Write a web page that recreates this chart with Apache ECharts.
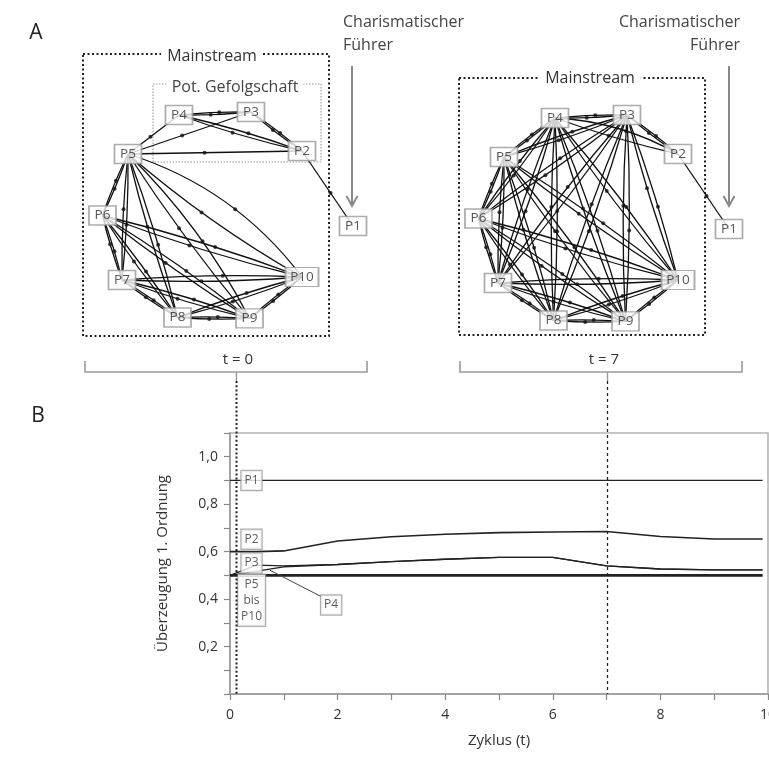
<!DOCTYPE html>
<html>
<head>
<meta charset="utf-8">
<script src="https://cdn.jsdelivr.net/npm/echarts@6/dist/echarts.min.js"></script>
<style>
html, body { margin: 0; padding: 0; background: #fff; }
#container { width: 769px; height: 771px; }
</style>
</head>
<body>
<div id="container"></div>
<script>
var FONT = '"Open Sans", "Noto Sans", sans-serif';

// --- network (part A): node layout in a 0..100 panel space
var nodeNames = ['P1', 'P2', 'P3', 'P4', 'P5', 'P6', 'P7', 'P8', 'P9', 'P10'];
var nodeX = [90, 73, 56, 32, 15, 6.5, 13, 31.5, 55.5, 73];
var nodeY = [38, 63, 76, 75, 62, 41.5, 20, 7.5, 7.2, 21];

// t = 0: mainstream is fully connected, potential followers linked among themselves
var mainstreamT0 = ['P5', 'P6', 'P7', 'P8', 'P9', 'P10'];
var extraLinksT0 = [['P4', 'P3'], ['P3', 'P4'], ['P4', 'P2'], ['P2', 'P4'], ['P3', 'P2'], ['P2', 'P3'],
                    ['P3', 'P5'], ['P4', 'P5'], ['P2', 'P5'], ['P2', 'P1']];
var bendT0 = [['P5', 'P10', 0.16], ['P10', 'P5', 0.05], ['P5', 'P9', 0.08]];

// t = 7: P3 and P4 joined the mainstream
var mainstreamT7 = ['P3', 'P4', 'P5', 'P6', 'P7', 'P8', 'P9', 'P10'];
var extraLinksT7 = [['P3', 'P2'], ['P2', 'P3'], ['P4', 'P2'], ['P2', 'P4'], ['P2', 'P1']];
var bendT7 = [['P4', 'P2', 0.12]];

// --- part B: belief over cycles
var cycles = [0, 0.5, 1, 2, 3, 4, 5, 6, 7, 8, 9, 9.9];
var beliefP1 = [0.9, 0.9, 0.9, 0.9, 0.9, 0.9, 0.9, 0.9, 0.9, 0.9, 0.9, 0.9];
var beliefP2 = [0.6, 0.6, 0.603, 0.645, 0.663, 0.673, 0.68, 0.683, 0.685, 0.664, 0.653, 0.653];
var beliefP3 = [0.5, 0.543, 0.54, 0.546, 0.558, 0.568, 0.576, 0.576, 0.54, 0.527, 0.523, 0.523];
var beliefP4 = [0.5, 0.518, 0.536, 0.546, 0.558, 0.568, 0.576, 0.576, 0.54, 0.527, 0.523, 0.523];
var beliefP5to10 = [0.5, 0.5, 0.5, 0.5, 0.5, 0.5, 0.5, 0.5, 0.5, 0.5, 0.5, 0.5];

var tagTexts = ['P1', 'P2', 'P3', 'P5\nbis\nP10', 'P4'];
var tagT = [0.4, 0.4, 0.4, 0.4, 1.88];
var tagV = [0.9, 0.652, 0.552, 0.395, 0.375];
var p4Leader = [[0.74, 0.522], [1.7, 0.41]];
var markerCycles = [0.12, 7];

var chart = echarts.init(document.getElementById('container'));

function pairs(xs, ys) {
    return xs.map(function (x, i) { return [x, ys[i]]; });
}

function buildLinks(group, extra, bend) {
    var links = [];
    for (var i = 0; i < group.length; i++) {
        for (var j = i + 1; j < group.length; j++) {
            links.push([group[i], group[j], 0.03]);
            links.push([group[j], group[i], 0.03]);
        }
    }
    extra.forEach(function (l) {
        var back = extra.some(function (m) { return m[0] === l[1] && m[1] === l[0]; });
        links.push([l[0], l[1], back ? 0.03 : 0]);
    });
    bend.forEach(function (b) {
        links.forEach(function (l) {
            if (l[0] === b[0] && l[1] === b[1]) l[2] = b[2];
        });
    });
    return links;
}

// small arrow dots sitting on the (curved) edges
function arrowDots(links, f) {
    return links.map(function (l) {
        var a = nodeNames.indexOf(l[0]), b = nodeNames.indexOf(l[1]);
        var x1 = nodeX[a], y1 = nodeY[a], x2 = nodeX[b], y2 = nodeY[b], c = l[2];
        var cx = (x1 + x2) / 2 + (y1 - y2) * c;
        var cy = (y1 + y2) / 2 + (x2 - x1) * c;
        var g = 1 - f;
        return [g * g * x1 + 2 * f * g * cx + f * f * x2, g * g * y1 + 2 * f * g * cy + f * f * y2];
    });
}

function networkSeries(idx, links) {
    var nodes = nodeNames.map(function (n, i) { return { name: n, value: [nodeX[i], nodeY[i]] }; });
    return [
        {
            type: 'graph', coordinateSystem: 'cartesian2d', xAxisIndex: idx, yAxisIndex: idx,
            layout: 'none', z: 2, silent: true, animation: false,
            symbolSize: 1, itemStyle: { opacity: 0 }, label: { show: false },
            data: nodes,
            links: links.map(function (l) {
                return {
                    source: nodeNames.indexOf(l[0]), target: nodeNames.indexOf(l[1]),
                    lineStyle: { curveness: l[2] }
                };
            }),
            lineStyle: { color: '#111', width: 1.3, opacity: 1 }
        },
        {
            type: 'scatter', xAxisIndex: idx, yAxisIndex: idx, z: 3, silent: true, animation: false,
            symbolSize: 4, itemStyle: { color: '#111' },
            data: arrowDots(links, 0.56)
        },
        {
            type: 'scatter', xAxisIndex: idx, yAxisIndex: idx, z: 4, silent: true, animation: false,
            symbol: 'rect',
            data: nodes.map(function (d) {
                return { name: d.name, value: d.value, symbolSize: d.name === 'P10' ? [33, 19] : [27, 19] };
            }),
            itemStyle: { color: '#fff', borderColor: '#999', borderWidth: 1.5 },
            label: { show: true, position: 'inside', formatter: '{b}', color: '#2a2a2a', fontSize: 13.5, fontFamily: FONT }
        }
    ];
}

function beliefLine(vals, width) {
    return {
        type: 'line', xAxisIndex: 2, yAxisIndex: 2, z: 3, silent: true, animation: false,
        symbol: 'none', smooth: false,
        lineStyle: { color: '#222', width: width },
        data: pairs(cycles, vals)
    };
}

var hiddenAxis = { type: 'value', min: 0, max: 100, show: false };

var series = []
    .concat(networkSeries(0, buildLinks(mainstreamT0, extraLinksT0, bendT0)))
    .concat(networkSeries(1, buildLinks(mainstreamT7, extraLinksT7, bendT7)));

series.push(beliefLine(beliefP1, 1.3));
series.push(beliefLine(beliefP2, 1.6));
series.push(beliefLine(beliefP3, 1.4));
var p4Series = beliefLine(beliefP4, 1.4);
p4Series.markLine = {
    silent: true, symbol: ['none', 'none'], animation: false,
    label: { show: false },
    lineStyle: { type: 'solid', color: '#444', width: 1 },
    data: [[{ coord: p4Leader[0] }, { coord: p4Leader[1] }]]
};
series.push(p4Series);
series.push(beliefLine(beliefP5to10, 2.6));
series.push({
    type: 'scatter', xAxisIndex: 2, yAxisIndex: 2, z: 5, silent: true, animation: false,
    symbolSize: 0,
    data: tagTexts.map(function (t, i) { return { name: t, value: [tagT[i], tagV[i]] }; }),
    label: {
        show: true, position: 'inside', formatter: '{b}',
        color: '#333', fontSize: 12, fontFamily: FONT, lineHeight: 16,
        backgroundColor: '#fff', borderColor: '#9a9a9a', borderWidth: 1.2, padding: [2, 3, 1, 3]
    }
});

option = {
    backgroundColor: '#fff',
    textStyle: { fontFamily: FONT },
    grid: [
        { left: 83, top: 40, width: 300, height: 300, outerBoundsMode: 'none' },
        { left: 459, top: 43, width: 300, height: 300, outerBoundsMode: 'none' },
        { left: 230, right: 1, top: 433, bottom: 77, show: true, borderColor: '#b4b4b4', borderWidth: 1.6,
          outerBoundsMode: 'none' }
    ],
    xAxis: [
        Object.assign({ gridIndex: 0 }, hiddenAxis),
        Object.assign({ gridIndex: 1 }, hiddenAxis),
        {
            gridIndex: 2, type: 'value', min: 0, max: 10, interval: 1,
            axisLine: { show: true, lineStyle: { color: '#999', width: 1.5 } },
            axisTick: { show: true, length: 6, lineStyle: { color: '#888', width: 1.2 } },
            splitLine: { show: false },
            axisLabel: {
                color: '#333', fontSize: 14, margin: 14, fontFamily: FONT,
                formatter: function (v) { return v % 2 === 0 ? String(v) : ''; }
            },
            name: 'Zyklus (t)', nameLocation: 'middle', nameGap: 39,
            nameTextStyle: { color: '#333', fontSize: 15, fontFamily: FONT }
        }
    ],
    yAxis: [
        Object.assign({ gridIndex: 0 }, hiddenAxis),
        Object.assign({ gridIndex: 1 }, hiddenAxis),
        {
            gridIndex: 2, type: 'value', min: 0, max: 1.1, interval: 0.1,
            axisLine: { show: true, lineStyle: { color: '#999', width: 1.5 } },
            axisTick: { show: true, length: 6, lineStyle: { color: '#888', width: 1.2 } },
            splitLine: { show: false },
            axisLabel: {
                color: '#333', fontSize: 14, margin: 12, fontFamily: FONT,
                formatter: function (v) {
                    var k = Math.round(v * 10);
                    if (k <= 0 || k > 10 || k % 2) return '';
                    return (k / 10).toFixed(1).replace('.', ',');
                }
            },
            name: 'Überzeugung 1. Ordnung', nameLocation: 'middle', nameGap: 60,
            nameTextStyle: { color: '#333', fontSize: 15, fontFamily: FONT }
        }
    ],
    series: series
};

chart.setOption(option);

// annotations: frames, titles, brackets and the dotted time markers
function txt(text, x, y, size, align, extra) {
    var st = { text: text, x: x, y: y, fontSize: size, fontFamily: FONT, fill: '#333',
               align: align || 'center', verticalAlign: 'middle' };
    return { type: 'text', z: 20, style: Object.assign(st, extra || {}) };
}
function dotted(x, y, w, h, color, width, dash) {
    return { type: 'rect', z: 1, shape: { x: x, y: y, width: w, height: h },
             style: { fill: 'none', stroke: color, lineWidth: width, lineDash: dash } };
}
function seg(points, color, width, dash, z) {
    return { type: 'polyline', z: z || 1, shape: { points: points },
             style: { fill: 'none', stroke: color, lineWidth: width, lineDash: dash || null } };
}

var graphics = [
    txt('A', 36, 33, 21, 'center', { fill: '#222' }),
    txt('B', 38, 416, 21, 'center', { fill: '#222' }),

    dotted(83, 54, 246, 282, '#222', 2, [2, 2.5]),
    dotted(153, 84, 168, 78, '#9a9a9a', 1.1, [1.5, 1.5]),
    txt('Mainstream', 212, 56, 16, 'center', { backgroundColor: '#fff', padding: [0, 6] }),
    txt('Pot. Gefolgschaft', 235, 87, 16, 'center', { fill: '#444', backgroundColor: '#fff', padding: [0, 5] }),

    dotted(459, 78, 246, 257, '#222', 2, [2, 2.5]),
    txt('Mainstream', 590, 78, 16, 'center', { backgroundColor: '#fff', padding: [0, 6] }),

    txt('Charismatischer\nFührer', 343, 34, 16, 'left', { fill: '#444', lineHeight: 23 }),
    txt('Charismatischer\nFührer', 740, 34, 16, 'right', { fill: '#444', lineHeight: 23 }),
    seg([[352, 66], [352, 205]], '#888', 2),
    seg([[346.5, 196], [352, 206], [357.5, 196]], '#888', 2),
    seg([[729, 66], [729, 205]], '#888', 2),
    seg([[723.5, 196], [729, 206], [734.5, 196]], '#888', 2),

    seg([[85, 361], [85, 372], [367, 372], [367, 361]], '#9a9a9a', 1.6),
    seg([[460, 361], [460, 372], [742, 372], [742, 361]], '#9a9a9a', 1.6),
    txt('t = 0', 238, 360, 15, 'center'),
    txt('t = 7', 604, 360, 15, 'center')
];

markerCycles.forEach(function (t, i) {
    var p = chart.convertToPixel({ gridIndex: 2 }, [t, 0]);
    var x = Math.round(p[0]) + 0.5;
    graphics.push(seg([[x, 372], [x, 381]], '#9a9a9a', 1.4, null, 21));
    graphics.push(seg([[x, 381], [x, p[1]]], '#222', i === 0 ? 2 : 1.3, i === 0 ? [2, 2.2] : [3, 3], 21));
});

chart.setOption({ graphic: graphics });
</script>
</body>
</html>
